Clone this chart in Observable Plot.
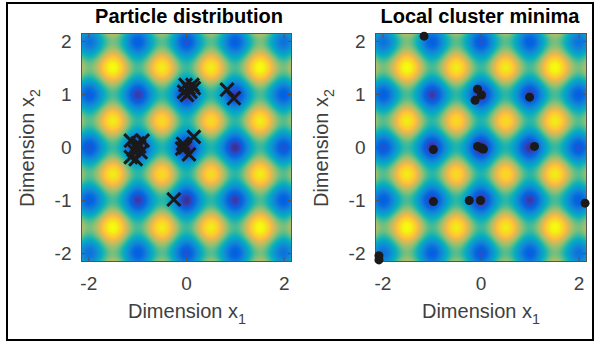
<!DOCTYPE html>
<html><head><meta charset="utf-8">
<script src="https://cdn.jsdelivr.net/npm/d3@7"></script>
<script src="https://cdn.jsdelivr.net/npm/@observablehq/plot@0.6"></script>
<style>
body{margin:0;background:#fff;font-family:"Liberation Sans",Arial,sans-serif;}
#fig{position:relative;width:594px;height:344px;overflow:hidden;background:#fff}
#border{position:absolute;left:6px;top:2px;width:584px;height:335px;border:2px solid #000;pointer-events:none}
.panel{position:absolute;top:0}
.title{position:absolute;font-weight:bold;font-size:20px;color:#000;white-space:nowrap;transform:translateX(-50%)}
.xlab{position:absolute;font-size:20px;color:#404040;white-space:nowrap;transform:translateX(-50%)}
.ylab{position:absolute;font-size:20px;color:#404040;white-space:nowrap;transform:translate(-50%,-50%) rotate(-90deg)}
sub{font-size:0.72em;vertical-align:-0.45em;line-height:0}
</style>
</head><body>
<div id="fig"></div>
<script>
// ---- data ----
const xTicks = [-2, 0, 2];
const yTicks = [-2, -1, 0, 1, 2];
const domainLim = [-2.15, 2.15];

// left panel: particles (x markers)
const particleX = [-1.14, -0.90, -1.04, -1.14, -1.04, -0.94, -1.00, -1.08, -0.97,
                   -0.07, 0.15, 0.05, -0.09, -0.03,
                   -0.02, 0.12, -0.05, 0.08, 0.01, 0.15, 0.04,
                   0.83, 0.97, -0.26];
const particleY = [0.13, 0.13, 0.01, -0.18, -0.22, -0.09, 0.08, -0.05, 0.02,
                   0.07, 0.20, -0.13, -0.02, 0.00,
                   1.18, 1.18, 1.05, 1.05, 0.99, 1.12, 1.12,
                   1.09, 0.93, -0.98];

// right panel: local cluster minima (filled dots)
const minimaX = [-1.16, -0.07, 0.01, -0.12, 0.99, -0.97, -0.07, 0.01, 0.05, 1.09,
                 -0.97, -0.24, -0.01, 2.12, -2.08, -2.08];
const minimaY = [2.10, 1.10, 0.99, 0.89, 0.95, -0.04, 0.02, -0.01, -0.03, 0.02,
                 -1.02, -1.00, -1.00, -1.05, -2.04, -2.12];

// background objective surface (Rastrigin, A = 10)
const A = 10;
const surface = (x, y) => 2 * A + x * x - A * Math.cos(2 * Math.PI * x) + y * y - A * Math.cos(2 * Math.PI * y);

// parula colormap stops
const parula = [
[0.2081,0.1663,0.5292],[0.2123,0.2138,0.6270],[0.1959,0.2645,0.7279],[0.1253,0.3242,0.8303],
[0.0117,0.3875,0.8820],[0.0165,0.4266,0.8786],[0.0498,0.4586,0.8641],[0.0723,0.4887,0.8467],
[0.0793,0.5200,0.8312],[0.0641,0.5570,0.8240],[0.0343,0.5966,0.8199],[0.0239,0.6287,0.8038],
[0.0228,0.6535,0.7768],[0.0384,0.6743,0.7436],[0.0843,0.6928,0.7062],[0.1453,0.7098,0.6646],
[0.2178,0.7250,0.6193],[0.3022,0.7376,0.5712],[0.3953,0.7459,0.5244],[0.4871,0.7491,0.4840],
[0.5709,0.7485,0.4494],[0.6473,0.7456,0.4188],[0.7184,0.7411,0.3905],[0.7858,0.7356,0.3633],
[0.8507,0.7299,0.3360],[0.9140,0.7258,0.3063],[0.9739,0.7314,0.2666],[0.9990,0.7653,0.2164],
[0.9880,0.8066,0.1794],[0.9697,0.8481,0.1475],[0.9589,0.8949,0.1132],[0.9661,0.9514,0.0755],
[0.9763,0.9831,0.0538]
].map(([r,g,b]) => d3.rgb(r*255, g*255, b*255).formatHex());
const parulaInterp = d3.piecewise(d3.interpolateRgb, parula);
const fmt = d => String(d);

function panel(marginLeft, marginRight, dotsMark) {
  return Plot.plot({
    width: 297, height: 344,
    marginLeft, marginRight, marginTop: 33, marginBottom: 83,
    style: {fontFamily: '"Liberation Sans", Arial, sans-serif', background: "transparent", overflow: "visible"},
    x: {domain: domainLim},
    y: {domain: domainLim},
    color: {type: "linear", interpolate: parulaInterp},
    marks: [
      Plot.raster({fill: surface, x1: domainLim[0], x2: domainLim[1], y1: domainLim[0], y2: domainLim[1], pixelSize: 1}),
      Plot.frame({stroke: "#555", strokeWidth: 1}),
      Plot.axisX(xTicks, {anchor: "bottom", tickSize: -4, text: null, stroke: "#555"}),
      Plot.axisX(xTicks, {anchor: "top", tickSize: -4, text: null, stroke: "#555"}),
      Plot.axisY(yTicks, {anchor: "left", tickSize: -4, text: null, stroke: "#555"}),
      Plot.axisY(yTicks, {anchor: "right", tickSize: -4, text: null, stroke: "#555"}),
      Plot.axisX(xTicks, {anchor: "bottom", tickSize: 0, tickPadding: 15, fontSize: 19, fill: "#404040", label: null, tickFormat: fmt}),
      Plot.axisY(yTicks, {anchor: "left", tickSize: 0, tickPadding: 10, fontSize: 19, fill: "#404040", label: null, tickFormat: fmt}),
      dotsMark
    ]
  });
}

const leftMark = Plot.dot(particleX, {x: particleX, y: particleY, symbol: "times", r: 6, stroke: "#1a1a1a", strokeWidth: 3});
const rightMark = Plot.dot(minimaX, {x: minimaX, y: minimaY, r: 4.5, fill: "#1a1a1a", stroke: "none"});

const fig = document.getElementById("fig");
const p1 = panel(81, 6, leftMark);
const p2 = panel(78, 8, rightMark);
const w1 = document.createElement("div"); w1.className = "panel"; w1.style.left = "0px"; w1.appendChild(p1);
const w2 = document.createElement("div"); w2.className = "panel"; w2.style.left = "297px"; w2.appendChild(p2);
fig.appendChild(w1); fig.appendChild(w2);

function addText(cls, html, x, y) {
  const d = document.createElement("div");
  d.className = cls; d.innerHTML = html;
  d.style.left = x + "px"; d.style.top = y + "px";
  fig.appendChild(d);
}
addText("title", "Particle distribution", 189, 5);
addText("title", "Local cluster minima", 480, 5);
addText("xlab", "Dimension x<sub>1</sub>", 187, 300);
addText("xlab", "Dimension x<sub>1</sub>", 481, 300);
addText("ylab", "Dimension x<sub>2</sub>", 27, 148);
addText("ylab", "Dimension x<sub>2</sub>", 321, 148);
const b = document.createElement("div"); b.id = "border"; fig.appendChild(b);
</script>
</body></html>
